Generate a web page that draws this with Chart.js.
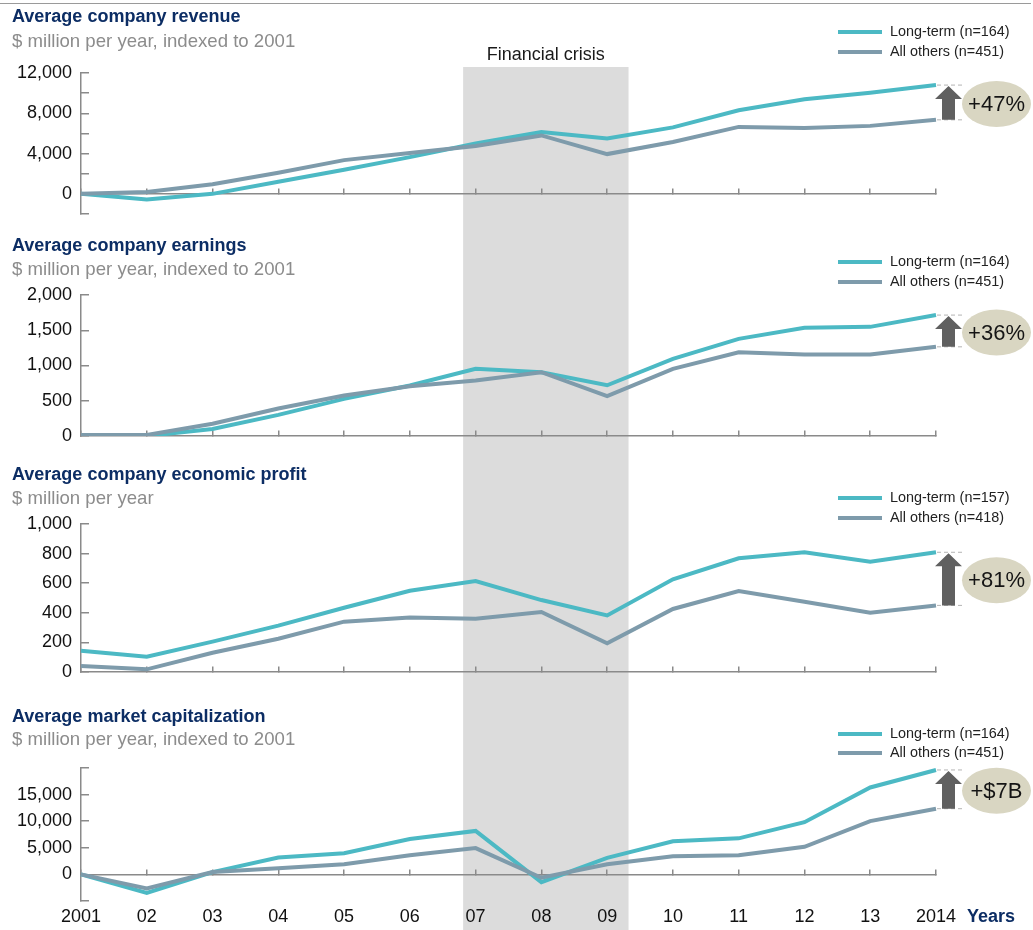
<!DOCTYPE html>
<html><head><meta charset="utf-8">
<script src="https://cdn.jsdelivr.net/npm/chart.js@4.4.1/dist/chart.umd.min.js"></script>
<style>
html,body{margin:0;padding:0;background:#fff;}
#wrap{position:relative;width:1033px;height:930px;overflow:hidden;background:#fff;}
canvas{position:absolute;left:0;}
</style></head><body><div id="wrap"></div>
<script>
// ---------- DATA ----------
const years = ['2001','02','03','04','05','06','07','08','09','10','11','12','13','2014'];

const revenueLongTerm = [0, -550, 0, 1200, 2400, 3650, 5000, 6150, 5500, 6600, 8300, 9400, 10050, 10800];
const revenueOthers   = [0, 180, 950, 2100, 3350, 4050, 4750, 5800, 3950, 5150, 6650, 6550, 6750, 7350];

const earningsLongTerm = [0, 0, 100, 300, 527, 716, 953, 905, 720, 1095, 1378, 1534, 1548, 1715];
const earningsOthers   = [15, 15, 173, 390, 574, 706, 787, 905, 565, 953, 1188, 1156, 1156, 1265];

const profitLongTerm = [144, 103, 205, 313, 434, 549, 615, 486, 382, 626, 768, 809, 745, 809];
const profitOthers   = [40, 18, 130, 225, 340, 369, 360, 405, 194, 426, 547, 475, 401, 450];

const marketCapLongTerm = [0, -3480, 440, 3160, 3990, 6650, 8170, -1460, 3100, 6210, 6780, 9820, 16340, 19630];
const marketCapOthers   = [0, -2660, 440, 1140, 1900, 3600, 4940, -630, 1900, 3420, 3610, 5190, 10010, 12350];

const crisisStart = 5.81;   // category position (between 06 and 07)
const crisisEnd = 8.325;    // category position (just after 09)

// ---------- STYLE ----------
const FONT = '"Liberation Sans", Arial, Helvetica, sans-serif';
const TEAL = '#4cb9c4', SLATE = '#7e9bab', NAVY = '#0c2d64', BAND = '#dcdcdc', AXIS = '#8a8a8a';

const wrap = document.getElementById('wrap');

function makePanel(p) {
  const canvas = document.createElement('canvas');
  canvas.width = 1033; canvas.height = p.h;
  canvas.style.top = p.top + 'px';
  canvas.style.width = '1033px'; canvas.style.height = p.h + 'px';
  wrap.appendChild(canvas);

  const deco = {
    id: 'deco',
    beforeDraw(chart) {
      const ctx = chart.ctx, xs = chart.scales.x;
      const x0 = xs.getPixelForValue(crisisStart), x1 = xs.getPixelForValue(crisisEnd);
      ctx.save();
      ctx.fillStyle = BAND;
      ctx.fillRect(x0, p.bandTop, x1 - x0, p.h - p.bandTop);
      if (p.topRule) {
        ctx.strokeStyle = '#9a9a9a'; ctx.lineWidth = 1.2;
        ctx.beginPath(); ctx.moveTo(0, 3.5); ctx.lineTo(1031, 3.5); ctx.stroke();
      }
      if (p.crisisLabel) {
        ctx.fillStyle = '#1a1a1a'; ctx.font = '18px ' + FONT;
        ctx.textAlign = 'center'; ctx.textBaseline = 'middle';
        ctx.fillText('Financial crisis', (x0 + x1) / 2, 55);
      }
      ctx.restore();
    },
    afterDraw(chart) {
      const ctx = chart.ctx, xs = chart.scales.x, ys = chart.scales.y;
      ctx.save();
      // titles
      ctx.textAlign = 'left'; ctx.textBaseline = 'middle';
      ctx.fillStyle = NAVY; ctx.font = 'bold 18px ' + FONT;
      ctx.fillText(p.title, 12, p.titleY);
      ctx.fillStyle = '#8c8c8c'; ctx.font = '18.6px ' + FONT;
      ctx.fillText(p.sub, 12, p.subY);
      // legend
      ctx.font = '14.4px ' + FONT;
      [[TEAL, p.legend[0]], [SLATE, p.legend[1]]].forEach((it, i) => {
        const y = p.legY[i];
        ctx.strokeStyle = it[0]; ctx.lineWidth = 4; ctx.lineCap = 'butt';
        ctx.beginPath(); ctx.moveTo(838, y); ctx.lineTo(882, y); ctx.stroke();
        ctx.fillStyle = '#222'; ctx.fillText(it[1], 890, y + 0.5);
      });
      // badge
      const last = years.length - 1;
      const xe = xs.getPixelForValue(last);
      const yTop = ys.getPixelForValue(p.lt[last]);
      const yBot = ys.getPixelForValue(p.ot[last]);
      ctx.strokeStyle = '#b4b4b4'; ctx.lineWidth = 1; ctx.setLineDash([4, 3]);
      [yTop, yBot].forEach(y => { ctx.beginPath(); ctx.moveTo(xe + 1, y); ctx.lineTo(xe + 27, y); ctx.stroke(); });
      ctx.setLineDash([]);
      const ax = xe + 12.5;
      ctx.fillStyle = '#606060';
      ctx.beginPath();
      ctx.moveTo(ax, yTop + 1);
      ctx.lineTo(ax + 13.5, yTop + 14);
      ctx.lineTo(ax + 6.5, yTop + 14);
      ctx.lineTo(ax + 6.5, yBot);
      ctx.lineTo(ax - 6.5, yBot);
      ctx.lineTo(ax - 6.5, yTop + 14);
      ctx.lineTo(ax - 13.5, yTop + 14);
      ctx.closePath(); ctx.fill();
      const cy = (yTop + yBot) / 2 + 1.5;
      ctx.fillStyle = '#d9d6c2';
      ctx.beginPath(); ctx.ellipse(996.5, cy, 34.5, 23, 0, 0, Math.PI * 2); ctx.fill();
      ctx.fillStyle = '#151515'; ctx.font = '22px ' + FONT;
      ctx.textAlign = 'center'; ctx.textBaseline = 'middle';
      ctx.fillText(p.badge, 996.5, cy + 1);
      if (p.yearsLabel) {
        ctx.fillStyle = NAVY; ctx.font = 'bold 18px ' + FONT;
        ctx.textAlign = 'left';
        ctx.fillText('Years', 967, 222);
      }
      ctx.restore();
    }
  };

  const scales = {
    x: {
      type: 'category', axis: 'x', position: { y: 0 }, offset: false,
      grid: { display: true, drawOnChartArea: false, drawTicks: true, tickLength: -6, color: AXIS, lineWidth: 1.5 },
      border: { display: true, color: AXIS, width: 1.5 },
      ticks: { display: false, autoSkip: false },
      afterFit(s) { s.height = 0; s.paddingLeft = 0; s.paddingRight = 0; }
    },
    y: {
      type: 'linear', axis: 'y', position: 'left', min: p.min, max: p.max,
      ticks: {
        stepSize: p.step, padding: 17, autoSkip: false, color: '#111', font: { family: FONT, size: 18 },
        callback: v => (p.showLabel(v) ? v.toLocaleString('en-US') : '')
      },
      grid: { display: true, drawOnChartArea: false, drawTicks: true, tickLength: -8, color: AXIS, lineWidth: 1.5 },
      border: { display: true, color: AXIS, width: 1.5 },
      afterFit(s) { s.width = 81; s.paddingTop = 0; s.paddingBottom = 0; }
    }
  };
  if (p.yearsLabel) {
    scales.x2 = {
      type: 'category', axis: 'x', position: 'bottom', offset: false,
      grid: { display: false, drawTicks: false }, border: { display: false },
      ticks: { autoSkip: false, maxRotation: 0, padding: 5, color: '#111', font: { family: FONT, size: 18 } },
      afterFit(s) { s.height = 29; s.paddingLeft = 0; s.paddingRight = 0; }
    };
  }

  new Chart(canvas, {
    type: 'line',
    data: {
      labels: years,
      datasets: [
        { label: p.legend[0], data: p.lt, borderColor: TEAL, borderWidth: 4, pointRadius: 0, tension: 0, order: 1, xAxisID: 'x', yAxisID: 'y' },
        { label: p.legend[1], data: p.ot, borderColor: SLATE, borderWidth: 4, pointRadius: 0, tension: 0, order: 0, xAxisID: 'x', yAxisID: 'y' }
      ]
    },
    options: {
      responsive: false, animation: false, devicePixelRatio: 1,
      layout: { autoPadding: false, padding: { left: 0, right: 97, top: p.padTop, bottom: p.padBottom } },
      plugins: { legend: { display: false }, tooltip: { enabled: false } },
      scales
    },
    plugins: [deco]
  });
}

makePanel({
  top: 0, h: 228, padTop: 73, padBottom: 14, bandTop: 67, topRule: true, crisisLabel: true,
  titleY: 17, subY: 42, legY: [32, 52],
  title: 'Average company revenue', sub: '$ million per year, indexed to 2001',
  legend: ['Long-term (n=164)', 'All others (n=451)'], badge: '+47%',
  min: -2000, max: 12000, step: 2000, showLabel: v => v >= 0 && v % 4000 === 0,
  lt: revenueLongTerm, ot: revenueOthers
});
makePanel({
  top: 228, h: 232, padTop: 67, padBottom: 24, bandTop: 0,
  titleY: 18, subY: 42, legY: [34, 54],
  title: 'Average company earnings', sub: '$ million per year, indexed to 2001',
  legend: ['Long-term (n=164)', 'All others (n=451)'], badge: '+36%',
  min: 0, max: 2000, step: 500, showLabel: v => true,
  lt: earningsLongTerm, ot: earningsOthers
});
makePanel({
  top: 460, h: 235, padTop: 64, padBottom: 23, bandTop: 0,
  titleY: 15, subY: 39, legY: [38, 58],
  title: 'Average company economic profit', sub: '$ million per year',
  legend: ['Long-term (n=157)', 'All others (n=418)'], badge: '+81%',
  min: 0, max: 1000, step: 200, showLabel: v => true,
  lt: profitLongTerm, ot: profitOthers
});
makePanel({
  top: 695, h: 235, padTop: 73, padBottom: 0, bandTop: 0, yearsLabel: true,
  titleY: 22, subY: 45, legY: [39, 58],
  title: 'Average market capitalization', sub: '$ million per year, indexed to 2001',
  legend: ['Long-term (n=164)', 'All others (n=451)'], badge: '+$7B',
  min: -5000, max: 20000, step: 5000, showLabel: v => v >= 0 && v <= 15000,
  lt: marketCapLongTerm, ot: marketCapOthers
});
</script>
</body></html>
